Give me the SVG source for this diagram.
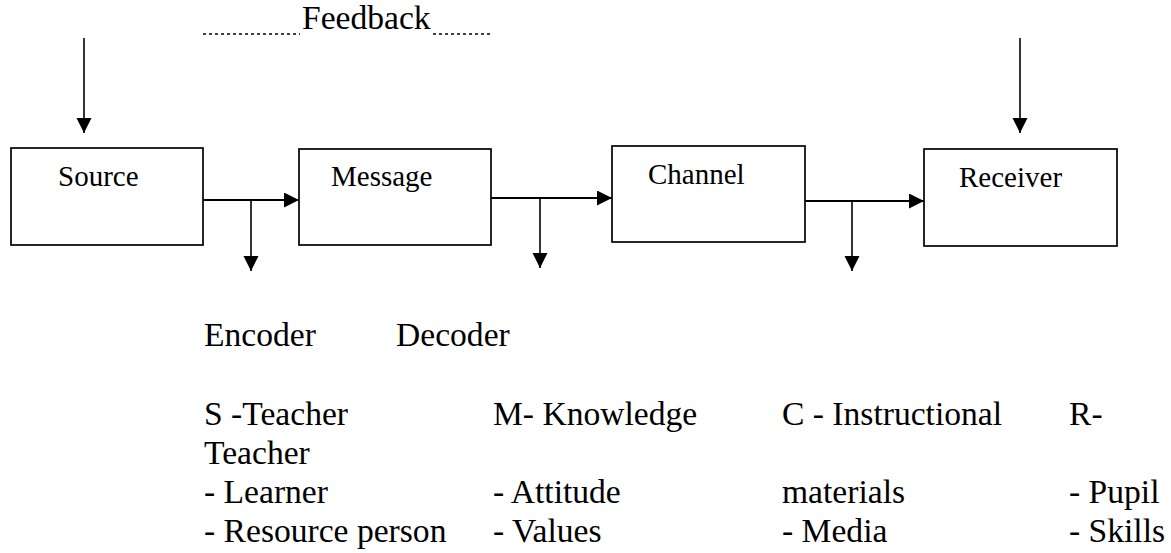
<svg xmlns="http://www.w3.org/2000/svg" width="1171" height="553" viewBox="0 0 1171 553">
<style>
  .box{fill:#fff;stroke:#000;stroke-width:1.7}
  .lbl{font-family:"Liberation Serif","Times New Roman",serif;font-size:29px;fill:#000}
  .txt{font-family:"Liberation Serif","Times New Roman",serif;font-size:33.6px;fill:#000}
  .h{stroke:#000;stroke-width:2;fill:none}
  .v{stroke:#000;stroke-width:1.6;fill:none}
  .dot{stroke:#000;stroke-width:1.5;stroke-dasharray:3 3;fill:none}
</style>
<defs>
  <marker id="ah" markerUnits="userSpaceOnUse" markerWidth="16" markerHeight="16" refX="15" refY="7.5" orient="auto">
    <path d="M0,0 L15,7.5 L0,15 z" fill="#000"/>
  </marker>
</defs>
<rect width="1171" height="553" fill="#fff"/>

<g id="feedback">
  <line class="dot" x1="203" y1="34" x2="300" y2="34"/>
  <text class="txt" x="302" y="29">Feedback</text>
  <line class="dot" x1="433" y1="34" x2="491" y2="34"/>
</g>

<g id="source">
  <rect class="box" x="11" y="148" width="192" height="97"/>
  <text class="lbl" x="58" y="186">Source</text>
</g>
<g id="message">
  <rect class="box" x="299" y="149" width="192" height="96"/>
  <text class="lbl" x="331" y="186">Message</text>
</g>
<g id="channel">
  <rect class="box" x="612" y="146" width="193" height="96"/>
  <text class="lbl" x="648" y="184">Channel</text>
</g>
<g id="receiver">
  <rect class="box" x="924" y="149" width="193" height="97"/>
  <text class="lbl" x="959" y="187">Receiver</text>
</g>

<g id="connectors">
  <line class="v" x1="84" y1="38" x2="84" y2="133" marker-end="url(#ah)"/>
  <line class="v" x1="1020" y1="38" x2="1020" y2="133" marker-end="url(#ah)"/>
  <line class="h" x1="203" y1="200" x2="299" y2="200" marker-end="url(#ah)"/>
  <line class="v" x1="251" y1="200" x2="251" y2="271" marker-end="url(#ah)"/>
  <line class="h" x1="491" y1="198" x2="612" y2="198" marker-end="url(#ah)"/>
  <line class="v" x1="540" y1="198" x2="540" y2="268" marker-end="url(#ah)"/>
  <line class="h" x1="805" y1="201" x2="924" y2="201" marker-end="url(#ah)"/>
  <line class="v" x1="852" y1="201" x2="852" y2="271" marker-end="url(#ah)"/>
</g>

<g id="legend">
  <text class="txt" x="204" y="346">Encoder</text>
  <text class="txt" x="396" y="346">Decoder</text>
  <text class="txt" x="204" y="425">S -Teacher</text>
  <text class="txt" x="493" y="425">M- Knowledge</text>
  <text class="txt" x="782" y="425">C - Instructional</text>
  <text class="txt" x="1069" y="425">R-</text>
  <text class="txt" x="204" y="464">Teacher</text>
  <text class="txt" x="204" y="503">- Learner</text>
  <text class="txt" x="493" y="503">- Attitude</text>
  <text class="txt" x="782" y="503">materials</text>
  <text class="txt" x="1069" y="503">- Pupil</text>
  <text class="txt" x="204" y="542">- Resource person</text>
  <text class="txt" x="493" y="542">- Values</text>
  <text class="txt" x="782" y="542">- Media</text>
  <text class="txt" x="1069" y="542">- Skills</text>
</g>
</svg>
